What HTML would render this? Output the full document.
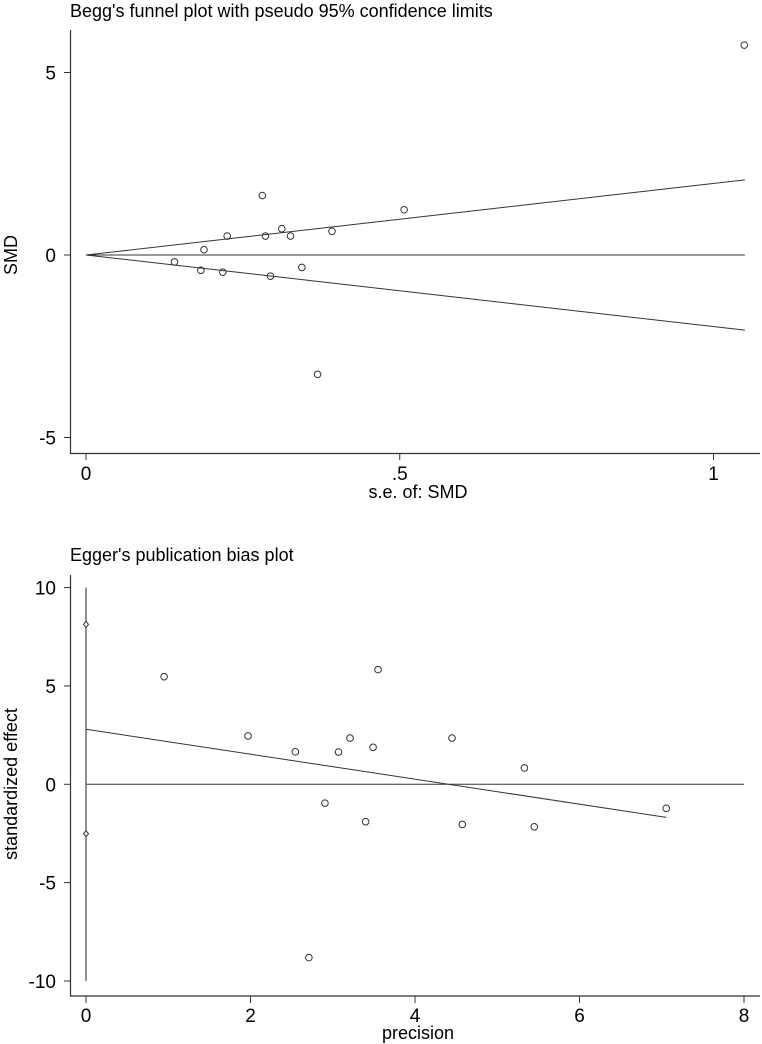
<!DOCTYPE html>
<html><head><meta charset="utf-8"><style>
html,body{margin:0;padding:0;background:#fff;}
svg{display:block;font-family:"Liberation Sans",Arial,sans-serif;}
</style></head><body>
<svg id="s" width="762" height="1044" viewBox="0 0 762 1044">
<text x="70" y="17" font-size="18">Begg's funnel plot with pseudo 95% confidence limits</text>
<text x="70" y="561" font-size="18">Egger's publication bias plot</text>
<g id="top"></g>
<g id="bot"></g>
</svg>
<script>
// Begg data
const beggSE = [0.141,0.183,0.188,0.218,0.225,0.281,0.286,0.294,0.312,0.326,0.344,0.369,0.392,0.507,1.049];
const beggSMD = [-0.19,-0.42,0.145,-0.47,0.52,1.63,0.52,-0.58,0.72,0.52,-0.34,-3.27,0.65,1.24,5.75];
const beggXTicks = [0,0.5,1];
const beggXTickLabels = ["0",".5","1"];
const beggYTicks = [5,0,-5];
const beggYTickLabels = ["5","0","-5"];
const beggMaxSE = 1.05;
// Egger data
const eggPrec = [0.95,1.97,2.545,2.71,2.905,3.07,3.21,3.40,3.49,3.55,4.45,4.575,5.33,5.45,7.055];
const eggEff = [5.47,2.46,1.65,-8.81,-0.96,1.64,2.35,-1.90,1.88,5.83,2.35,-2.04,0.83,-2.16,-1.22];
const eggCI = [8.13,-2.51];
const eggLine = [2.80,-1.68];
const eggXTicks = [0,2,4,6,8];
const eggXTickLabels = ["0","2","4","6","8"];
const eggYTicks = [10,5,0,-5,-10];
const eggYTickLabels = ["10","5","0","-5","-10"];

const NS="http://www.w3.org/2000/svg";
function mk(p,t,a){const e=document.createElementNS(NS,t);for(const k in a)e.setAttribute(k,a[k]);p.appendChild(e);return e;}
const C="#333";
const TF=19, AF=18;

// Top
const T=document.getElementById('top');
const tx=v=>86+v*627.5, ty=v=>255-v*36.5;
let e;
e=mk(T,'line',{x1:70.5,y1:30,x2:70.5,y2:454,stroke:C,'stroke-width':1.2});


e=mk(T,'line',{x1:70,y1:453.5,x2:760,y2:453.5,stroke:C,'stroke-width':1.2});


beggYTicks.forEach((v,i)=>{
 mk(T,'line',{x1:64,y1:ty(v),x2:70.5,y2:ty(v),stroke:C});
 e=mk(T,'text',{x:56,y:ty(v)+7,'font-size':TF,'text-anchor':'end'});e.textContent=beggYTickLabels[i];
 
 
});
beggXTicks.forEach((v,i)=>{
 mk(T,'line',{x1:tx(v),y1:453.5,x2:tx(v),y2:460,stroke:C});
 e=mk(T,'text',{x:tx(v),y:480,'font-size':TF,'text-anchor':'middle'});e.textContent=beggXTickLabels[i];
 
 
});
e=mk(T,'text',{x:418,y:498,'font-size':AF,'text-anchor':'middle'});e.textContent='s.e. of: SMD';


e=mk(T,'text',{x:0,y:0,'font-size':AF,'text-anchor':'middle',transform:'translate(17,255) rotate(-90)'});e.textContent='SMD';


[[0,0,beggMaxSE,0],[0,0,beggMaxSE,1.96*beggMaxSE],[0,0,beggMaxSE,-1.96*beggMaxSE]].forEach((l,i)=>{
 e=mk(T,'line',{x1:tx(l[0]),y1:ty(l[1]),x2:tx(l[2]),y2:ty(l[3]),stroke:C,'stroke-width':1});
 
 
});
beggSE.forEach((s,i)=>{
 e=mk(T,'circle',{cx:tx(s),cy:ty(beggSMD[i]),r:3.3,fill:'none',stroke:C,'stroke-width':1});
 
 
});

// Bottom
const B=document.getElementById('bot');
const bx=v=>86+v*82.25, by=v=>784.3-v*19.67;
e=mk(B,'line',{x1:70.5,y1:575,x2:70.5,y2:996.5,stroke:C,'stroke-width':1.2});


e=mk(B,'line',{x1:70,y1:996,x2:760,y2:996,stroke:C,'stroke-width':1.2});


eggYTicks.forEach((v,i)=>{
 mk(B,'line',{x1:64,y1:by(v),x2:70.5,y2:by(v),stroke:C});
 e=mk(B,'text',{x:56,y:by(v)+7,'font-size':TF,'text-anchor':'end'});e.textContent=eggYTickLabels[i];
 
 
});
eggXTicks.forEach((v,i)=>{
 mk(B,'line',{x1:bx(v),y1:996,x2:bx(v),y2:1003,stroke:C});
 e=mk(B,'text',{x:bx(v),y:1022,'font-size':TF,'text-anchor':'middle'});e.textContent=eggXTickLabels[i];
 
 
});
e=mk(B,'text',{x:418,y:1039,'font-size':AF,'text-anchor':'middle'});e.textContent='precision';


e=mk(B,'text',{x:0,y:0,'font-size':AF,'text-anchor':'middle',transform:'translate(17,784) rotate(-90)'});e.textContent='standardized effect';


e=mk(B,'line',{x1:bx(0),y1:by(0),x2:bx(8),y2:by(0),stroke:C});


e=mk(B,'line',{x1:bx(0),y1:by(10),x2:bx(0),y2:by(-10),stroke:'#555','stroke-width':1.3});


e=mk(B,'line',{x1:bx(0),y1:by(eggLine[0]),x2:bx(eggPrec[eggPrec.length-1]),y2:by(eggLine[1]),stroke:C});


eggCI.forEach(v=>{
 const cx=bx(0),cy=by(v);
 e=mk(B,'path',{d:`M${cx} ${cy-3} L${cx+2.5} ${cy} L${cx} ${cy+3} L${cx-2.5} ${cy} Z`,fill:'#fff',stroke:C});
 
 
});
eggPrec.forEach((p,i)=>{
 e=mk(B,'circle',{cx:bx(p),cy:by(eggEff[i]),r:3.3,fill:'none',stroke:C,'stroke-width':1});
 
 
});
</script>
</body></html>
